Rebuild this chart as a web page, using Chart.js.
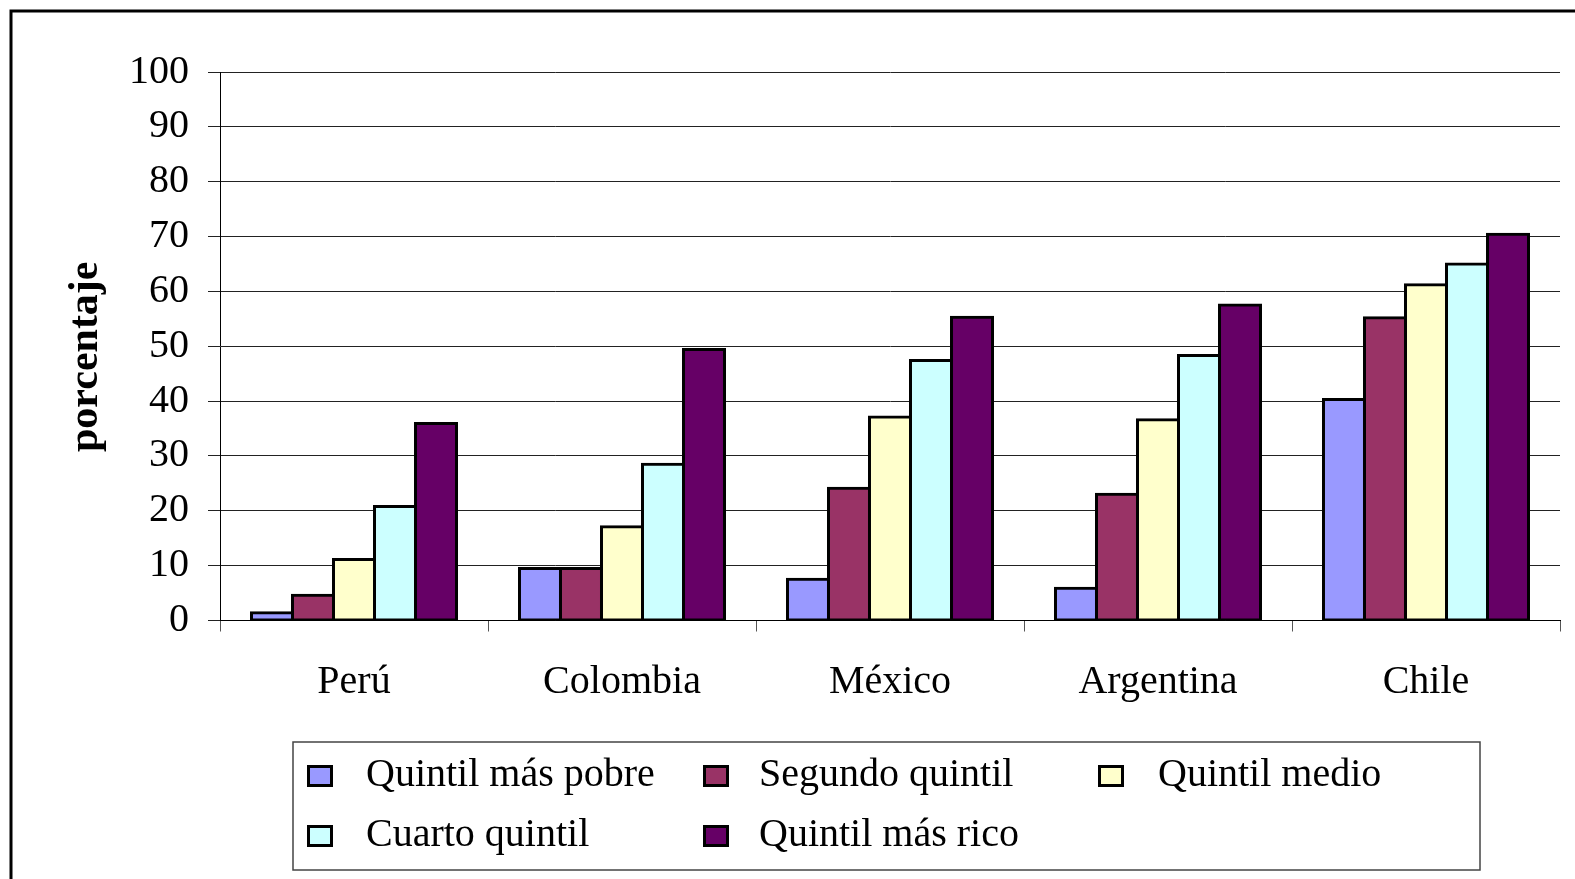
<!DOCTYPE html>
<html>
<head>
<meta charset="utf-8">
<script src="https://cdn.jsdelivr.net/npm/chart.js@4.4.1/dist/chart.umd.min.js"></script>
<style>
	html, body { margin: 0; padding: 0; background: #fff; }
	#wrap { width: 1575px; height: 879px; position: relative; }
</style>
</head>
<body>
<div id="wrap"><canvas id="quintilChart" width="1575" height="879"></canvas></div>
<script>
// Data
const countries = ["Perú", "Colombia", "México", "Argentina", "Chile"];
const seriesNames = [
	"Quintil más pobre",
	"Segundo quintil",
	"Quintil medio",
	"Cuarto quintil",
	"Quintil más rico",
];
const poorest = [1.4, 9.5, 7.5, 5.9, 40.3];
const second = [4.6, 9.5, 24.1, 23.0, 55.2];
const middle = [11.1, 17.1, 37.1, 36.6, 61.2];
const fourth = [20.8, 28.5, 47.4, 48.3, 65.0];
const richest = [35.9, 49.4, 55.3, 57.5, 70.4];
const yTicks = [0, 10, 20, 30, 40, 50, 60, 70, 80, 90, 100];

const colors = ["#9999FF", "#993366", "#FFFFCC", "#CCFFFF", "#660066"];
const serif = "'Liberation Serif', 'Times New Roman', serif";

// outer frame, legend drawn by hand (grid layout with a border)
const framePlugin = {
	id: "frame",
	beforeDraw(chart) {
		const ctx = chart.ctx;
		ctx.save();
		ctx.fillStyle = "#fff";
		ctx.fillRect(0, 0, chart.width, chart.height);
		ctx.strokeStyle = "#000";
		ctx.lineWidth = 3;
		ctx.strokeRect(11, 11, chart.width + 20, chart.height + 20);
		ctx.restore();
	},
	afterDraw(chart) {
		const ctx = chart.ctx;
		ctx.save();
		ctx.strokeStyle = "#444";
		ctx.lineWidth = 1.5;
		ctx.strokeRect(293, 742, 1187, 128);

		const cols = [307, 703, 1098];
		const textX = [366, 759, 1158];
		const rows = [776, 836];
		ctx.font = "40px " + serif;
		ctx.textBaseline = "middle";
		ctx.textAlign = "left";
		chart.data.datasets.forEach(function (ds, i) {
			const c = i % 3;
			const r = Math.floor(i / 3);
			const sx = cols[c];
			const sy = rows[r] - 11;
			ctx.fillStyle = "#000";
			ctx.fillRect(sx, sy, 26, 22);
			ctx.fillStyle = ds.backgroundColor;
			ctx.fillRect(sx + 3, sy + 3, 20, 16);
			ctx.fillStyle = "#000";
			ctx.fillText(ds.label, textX[c], rows[r] - 1);
		});
		ctx.restore();
	},
};

const seriesData = [poorest, second, middle, fourth, richest];

new Chart(document.getElementById("quintilChart").getContext("2d"), {
	type: "bar",
	data: {
		labels: countries,
		datasets: seriesNames.map(function (name, i) {
			return {
				label: name,
				data: seriesData[i],
				backgroundColor: colors[i],
				borderColor: "#000",
				borderWidth: 3,
				borderSkipped: false,
				inflateAmount: 1.5,
				categoryPercentage: 0.765,
				barPercentage: 1,
			};
		}),
	},
	options: {
		responsive: false,
		animation: false,
		events: [],
		plugins: {
			legend: { display: false },
			tooltip: { enabled: false },
		},
		layout: {
			padding: { top: 72, right: 15, bottom: 0, left: 0 },
		},
		scales: {
			x: {
				offset: true,
				grid: {
					offset: true,
					drawOnChartArea: false,
					drawTicks: true,
					tickLength: 11,
					color: "#555",
				},
				border: { color: "#000", width: 1 },
				ticks: {
					color: "#000",
					padding: 27,
					font: { family: serif, size: 40 },
				},
				afterFit: function (scale) {
					scale.height = 258.5;
				},
			},
			y: {
				min: 0,
				max: 100,
				afterBuildTicks: function (scale) {
					scale.ticks = yTicks.map(function (v) {
						return { value: v };
					});
				},
				grid: {
					color: "#222",
					lineWidth: 1,
					tickLength: 12,
				},
				border: { color: "#000", width: 1 },
				ticks: {
					color: "#000",
					padding: 19,
					font: { family: serif, size: 40 },
				},
				title: {
					display: true,
					text: "porcentaje  ",
					color: "#000",
					font: { family: serif, size: 42, weight: "bold" },
					padding: { top: 61, bottom: 0 },
				},
				afterFit: function (scale) {
					scale.width = 220;
				},
			},
		},
	},
	plugins: [framePlugin],
});
</script>
</body>
</html>
